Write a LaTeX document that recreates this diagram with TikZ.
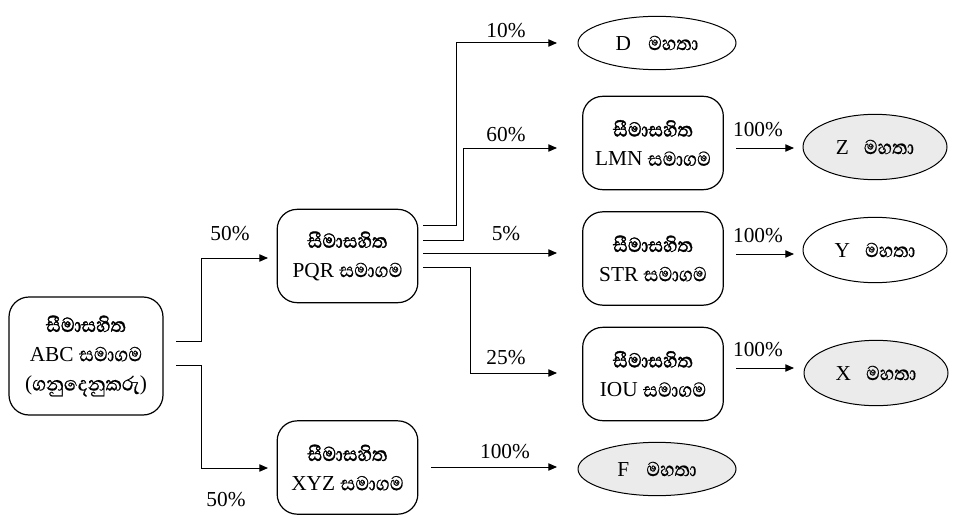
\documentclass[tikz,border=0pt]{standalone}
\usepackage{fontspec}
\setmainfont{Liberation Serif}
\newfontfamily\sinhfont[Script=Sinhala, Scale=1.2, FakeStretch=0.9, FakeBold=0.5]{Abhaya Libre}
\newfontfamily\sinhheavy[Script=Sinhala, Scale=1.2, FakeStretch=0.9, FakeBold=1.3]{Abhaya Libre}
\newcommand{\sinhtxt}[1]{{\sinhfont #1}}
\newcommand{\sinhhead}[1]{{\sinhheavy #1}}
\usetikzlibrary{arrows.meta,shapes.geometric}
\definecolor{personfill}{gray}{0.92}

\begin{document}
\begin{tikzpicture}[x=0.75pt,y=-0.75pt,
  txt/.style={font=\rmfamily\fontsize{16pt}{22pt}\selectfont},
  company/.style={txt, draw, rounded corners=15pt, align=center, line width=0.9pt,
    inner sep=0pt, minimum width=105.5pt, minimum height=70pt},
  person/.style={txt, draw, ellipse, line width=0.75pt, inner sep=0pt,
    minimum width=118.5pt, minimum height=40pt},
  small/.style={minimum width=108pt, minimum height=49pt},
  shaded/.style={fill=personfill},
  link/.style={line width=0.75pt},
  arr/.style={link, -{Triangle[length=6.5pt,width=5.5pt]}},
  pct/.style={txt, inner sep=0pt}
]
\useasboundingbox (0,0) rectangle (953,517);

% companies
\node[company, minimum width=115.5pt, minimum height=88.5pt] (abc) at (86,356)
  {\sinhhead{සීමාසහිත}\\ABC \sinhtxt{සමාගම}\\(\sinhtxt{ගනුදෙනුකරු})};
\node[company] (pqr) at (347.5,256) {\sinhhead{සීමාසහිත}\\PQR \sinhtxt{සමාගම}};
\node[company] (xyz) at (347.5,467.5) {\sinhhead{සීමාසහිත}\\XYZ \sinhtxt{සමාගම}};
\node[company] (lmn) at (653,143) {\sinhhead{සීමාසහිත}\\LMN \sinhtxt{සමාගම}};
\node[company] (str) at (653,258.5) {\sinhhead{සීමාසහිත}\\STR \sinhtxt{සමාගම}};
\node[company] (iou) at (653,374) {\sinhhead{සීමාසහිත}\\IOU \sinhtxt{සමාගම}};

% persons
\node[person] (d) at (657,43) {D\hspace{0.8em}\sinhtxt{මහතා}};
\node[person, shaded] (f) at (657,469) {F\hspace{0.8em}\sinhtxt{මහතා}};
\node[person, small, shaded] (z) at (875,147) {Z\hspace{0.7em}\sinhtxt{මහතා}};
\node[person, small] (y) at (875,250) {Y\hspace{0.7em}\sinhtxt{මහතා}};
\node[person, small, shaded] (x) at (876,373) {X\hspace{0.7em}\sinhtxt{මහතා}};

% connector ends
\coordinate (abc-up) at (176,341);
\coordinate (abc-dn) at (176,365);
\coordinate (pqr-in) at (268,258);
\coordinate (xyz-in) at (268,468);
\coordinate (pqr-o1) at (423,225);
\coordinate (pqr-o2) at (423,240);
\coordinate (pqr-o3) at (423,253);
\coordinate (pqr-o4) at (423,267);
\coordinate (d-in) at (557,43);
\coordinate (lmn-in) at (557,148);
\coordinate (str-in) at (557,253);
\coordinate (iou-in) at (557,373);
\coordinate (xyz-out) at (431,467);
\coordinate (f-in) at (557,467);
\coordinate (lmn-out) at (736,148);
\coordinate (str-out) at (736,254);
\coordinate (iou-out) at (736,368);
\coordinate (z-in) at (794,148);
\coordinate (y-in) at (794,254);
\coordinate (x-in) at (794,368);

% connectors
\draw[arr] (abc-up) -- ++(25,0) |- (pqr-in);
\draw[arr] (abc-dn) -- ++(25,0) |- (xyz-in);
\draw[arr] (pqr-o1) -- ++(33,0) |- (d-in);
\draw[arr] (pqr-o2) -- ++(40,0) |- (lmn-in);
\draw[arr] (pqr-o3) -- (str-in);
\draw[arr] (pqr-o4) -- ++(47,0) |- (iou-in);
\draw[arr] (xyz-out) -- (f-in);
\draw[arr] (lmn-out) -- (z-in);
\draw[arr] (str-out) -- (y-in);
\draw[arr] (iou-out) -- (x-in);

% shares
\node[pct] (s-pqr) at (230,234) {50\%};
\node[pct] (s-xyz) at (226,500) {50\%};
\node[pct] (s-d) at (506,31) {10\%};
\node[pct] (s-lmn) at (506,135) {60\%};
\node[pct] (s-str) at (506,234) {5\%};
\node[pct] (s-iou) at (506,358) {25\%};
\node[pct] (s-f) at (505,452) {100\%};
\node[pct] (s-z) at (758,130) {100\%};
\node[pct] (s-y) at (758,236) {100\%};
\node[pct] (s-x) at (758,350) {100\%};
\end{tikzpicture}
\end{document}
